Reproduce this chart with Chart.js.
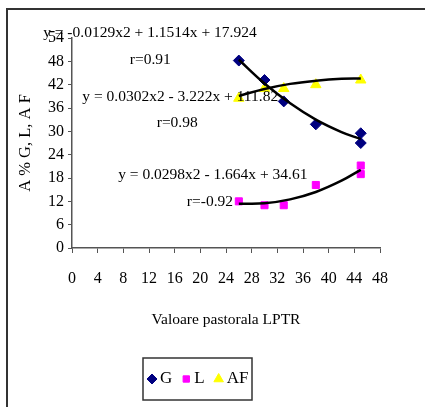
<!DOCTYPE html>
<html>
<head>
<meta charset="utf-8">
<script src="https://cdn.jsdelivr.net/npm/chart.js@4/dist/chart.umd.min.js"></script>
<style>
  html, body { margin: 0; padding: 0; background: #fff; }
  #wrap { position: relative; width: 425px; height: 407px; }
  #frame { position: absolute; left: 6px; top: 8px; right: 0; bottom: 0;
           border-top: 2px solid #333; border-left: 2px solid #333; pointer-events: none; }
  canvas { position: absolute; left: 0; top: 0; }
</style>
</head>
<body>
<div id="wrap">
  <canvas id="myChart" width="425" height="407"></canvas>
  <div id="frame"></div>
</div>
<script>
// valori
const xG = [26, 30, 33, 38, 45, 45];
const yG = [48.2, 43.2, 37.7, 31.8, 29.5, 27];
const xL = [26, 30, 33, 38, 45, 45];
const yL = [12, 11, 11, 16.2, 21.2, 19];
const xAF = [26, 30, 33, 38, 45];
const yAF = [38.5, 41, 41, 42, 43.2];

// liniile de trend (citite de pe curbe)
const xTrend = [26, 30, 34, 38, 42, 45];
const trendG = [48.4, 42.3, 37.2, 33.0, 29.8, 28.0];
const trendL = [11.4, 11.5, 12.5, 14.4, 17.3, 20.1];
const trendAF = [39.1, 40.9, 42.2, 43.0, 43.5, 43.6];

const xTicks = [0, 48, 4];
const yTicks = [0, 54, 6];

// ecuatiile scrise pe grafic
const labels = [
  { text: "y = -0.0129x2 + 1.1514x + 17.924", x: -4.5, y: 55.2, align: "left" },
  { text: "r=0.91", x: 12.2, y: 48.3, align: "center" },
  { text: "y = 0.0302x2 - 3.222x + 111.82", x: 1.6, y: 38.9, align: "left" },
  { text: "r=0.98", x: 16.4, y: 32.1, align: "center" },
  { text: "y = 0.0298x2 - 1.664x + 34.61", x: 7.2, y: 18.8, align: "left" },
  { text: "r=-0.92", x: 25.1, y: 11.8, align: "right" }
];

const serif = "'Liberation Serif', 'Times New Roman', serif";

function pts(xs, ys) {
  return xs.map((x, i) => ({ x: x, y: ys[i] }));
}

function trend(ys) {
  return {
    type: "line",
    data: pts(xTrend, ys),
    borderColor: "#000",
    borderWidth: 2.5,
    pointRadius: 0,
    tension: 0.4,
    fill: false,
    order: 0,
    trend: true
  };
}

Chart.defaults.font.family = serif;
Chart.defaults.color = "#000";

var ctx = document.getElementById("myChart");
var myChart = new Chart(ctx, {
  type: "scatter",
  data: {
    datasets: [
      trend(trendG),
      trend(trendL),
      trend(trendAF),
      {
        label: "G",
        data: pts(xG, yG),
        pointStyle: "rectRot",
        pointRadius: 5.5,
        backgroundColor: "#000080",
        borderColor: "#000080",
        order: 1
      },
      {
        label: "L",
        data: pts(xL, yL),
        pointStyle: "rect",
        pointRadius: 5,
        backgroundColor: "#ff00ff",
        borderColor: "#ff00ff",
        order: 1
      },
      {
        label: "AF",
        data: pts(xAF, yAF),
        pointStyle: "triangle",
        pointRadius: 6,
        backgroundColor: "#ffff00",
        borderColor: "#ffff00",
        order: 1
      }
    ]
  },
  options: {
    responsive: false,
    animation: false,
    layout: { padding: { left: 10, right: 45, top: 38, bottom: 0 } },
    plugins: {
      legend: { display: false },
      tooltip: { enabled: false }
    },
    scales: {
      x: {
        type: "linear",
        min: xTicks[0],
        max: xTicks[1],
        ticks: { stepSize: xTicks[2], padding: 16, font: { size: 16 }, color: "#000" },
        grid: { drawOnChartArea: false, drawTicks: true, tickLength: 5, color: "#555" },
        border: { color: "#555", width: 1.5 },
        title: {
          display: true,
          text: "Valoare pastorala LPTR",
          font: { size: 15.5 },
          color: "#000",
          padding: { top: 0, bottom: 78 }
        },
        afterFit: s => { s.height = 159; }
      },
      y: {
        min: yTicks[0],
        max: yTicks[1],
        ticks: { stepSize: yTicks[2], padding: 4, font: { size: 16 }, color: "#000" },
        grid: { drawOnChartArea: false, drawTicks: true, tickLength: 4, color: "#555" },
        border: { color: "#555", width: 1.5 },
        title: {
          display: true,
          text: "A % G, L, A F",
          font: { size: 16.5 },
          color: "#000",
          padding: { top: 6, bottom: 0 }
        },
        afterFit: s => { s.width = 62; }
      }
    }
  },
  plugins: [{
    id: "eqLabels",
    afterDatasetsDraw(chart) {
      const c = chart.ctx;
      const sx = chart.scales.x, sy = chart.scales.y;
      c.save();
      c.font = "15.5px " + serif;
      c.fillStyle = "#000";
      c.textBaseline = "middle";
      labels.forEach(l => {
        c.textAlign = l.align;
        c.fillText(l.text, sx.getPixelForValue(l.x), sy.getPixelForValue(l.y));
      });
      c.restore();
    },
    afterDraw(chart) {
      // legenda cu chenar
      const c = chart.ctx;
      const box = { x: 143, y: 358, w: 109, h: 42 };
      c.save();
      c.strokeStyle = "#333";
      c.lineWidth = 1.5;
      c.strokeRect(box.x, box.y, box.w, box.h);
      c.font = "17px " + serif;
      c.textBaseline = "middle";
      c.textAlign = "left";
      const cy = box.y + box.h / 2;
      let cx = box.x + 9;
      chart.data.datasets.filter(d => !d.trend).forEach(d => {
        c.fillStyle = d.backgroundColor;
        c.strokeStyle = d.borderColor;
        c.lineWidth = 1;
        Chart.helpers.drawPoint(c, { pointStyle: d.pointStyle, radius: d.pointRadius - 0.5, borderWidth: 1 }, cx, cy);
        c.fillStyle = "#000";
        c.fillText(d.label, cx + 8, cy);
        cx += 8 + c.measureText(d.label).width + 14;
      });
      c.restore();
    }
  }]
});
</script>
</body>
</html>
